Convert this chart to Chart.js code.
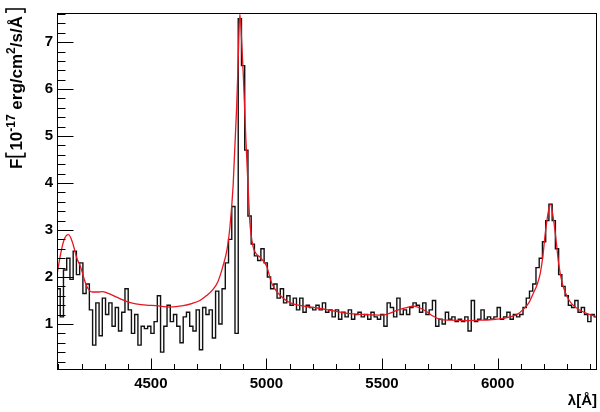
<!DOCTYPE html>
<html lang="en">
<head>
<meta charset="UTF-8">
<title>Spectrum fit</title>
<script src="https://cdn.jsdelivr.net/npm/chart.js"></script>
<style>
  html, body { margin: 0; padding: 0; background: #fff; }
</style>
</head>
<body>
<canvas id="spec" width="600" height="412"></canvas>
<script>
// observed spectrum, binned (black histogram)
const binStart = 4094;
const binWidth = 14;
const flux = [
  1.75, 1.15, 2.15, 2.4, 1.95, 2.55, 2.05, 2.3, 1.65, 1.85,
  1.3, 0.55, 1.45, 0.75, 1.55, 1.2, 1.45, 0.95, 1.35, 0.85,
  1.25, 1.75, 1.3, 0.8, 1.2, 0.55, 0.95, 0.9, 0.95, 0.8,
  1.05, 1.6, 0.4, 0.95, 1.4, 1.05, 1.2, 0.95, 0.6, 1.15,
  1.25, 0.95, 0.85, 1.3, 0.45, 1.35, 1.2, 1.3, 0.7, 1.7,
  1.0, 1.75, 2.3, 2.8, 3.5, 0.8, 7.5, 6.5, 4.7, 3.3,
  2.7, 2.45, 2.35, 2.6, 2.3, 2.0, 1.75, 1.85, 1.55, 1.75,
  1.45, 1.6, 1.4, 1.55, 1.3, 1.55, 1.25, 1.4, 1.35, 1.3,
  1.4, 1.3, 1.45, 1.25, 1.3, 1.15, 1.3, 1.1, 1.25, 1.15,
  1.3, 1.1, 1.2, 1.25, 1.15, 1.2, 1.1, 1.25, 1.15, 1.1,
  1.2, 0.95, 1.45, 1.35, 1.15, 1.55, 1.2, 1.3, 1.2, 1.35,
  1.45, 1.4, 1.25, 1.45, 1.2, 1.3, 1.5, 0.95, 1.1, 1.0,
  1.25, 1.1, 1.15, 1.05, 1.1, 1.05, 1.15, 0.85, 1.5, 1.05,
  1.1, 1.3, 1.1, 1.15, 1.1, 1.15, 1.35, 1.1, 1.15, 1.25,
  1.1, 1.2, 1.15, 1.2, 1.35, 1.55, 1.7, 1.85, 2.2, 2.4,
  2.75, 3.2, 3.55, 3.2, 2.6, 2.05, 1.8, 1.6, 1.4, 1.35,
  1.5, 1.25, 1.35, 1.2, 1.05, 1.2, 1.15
];

// fitted model (red curve)
const modelLambda = [
  4094, 4110, 4125, 4144, 4160, 4180, 4197, 4212, 4226, 4247,
  4270, 4291, 4310, 4340, 4370, 4400, 4435, 4480, 4522, 4582,
  4640, 4680, 4712, 4740, 4768, 4790, 4812, 4830, 4842, 4856,
  4871, 4878, 4885, 4893, 4900, 4911, 4921, 4928, 4942, 4955,
  4971, 4985, 5001, 5022, 5040, 5059, 5085, 5115, 5150, 5189,
  5218, 5290, 5362, 5430, 5505, 5535, 5564, 5600, 5636, 5665,
  5694, 5720, 5752, 5795, 5860, 5925, 5990, 6055, 6090, 6112,
  6135, 6156, 6172, 6185, 6196, 6206, 6218, 6228, 6238, 6250,
  6264, 6278, 6293, 6310, 6329, 6360, 6387, 6432
];
const modelFlux = [
  2.05, 2.5, 2.8, 2.9, 2.75, 2.4, 2.2, 1.95, 1.77, 1.68,
  1.68, 1.69, 1.66, 1.6, 1.53, 1.47, 1.43, 1.4, 1.39, 1.36,
  1.39, 1.44, 1.5, 1.6, 1.73, 1.9, 2.23, 2.6, 3.06, 3.95,
  5.6, 6.65, 7.6, 7.0, 6.3, 4.93, 3.89, 3.19, 2.65, 2.5,
  2.43, 2.35, 2.23, 1.88, 1.72, 1.61, 1.5, 1.43, 1.39, 1.36,
  1.34, 1.28, 1.22, 1.2, 1.19, 1.23, 1.29, 1.34, 1.38, 1.34,
  1.26, 1.17, 1.1, 1.08, 1.07, 1.08, 1.1, 1.15, 1.22, 1.32,
  1.45, 1.67, 1.85, 2.09, 2.45, 2.92, 3.35, 3.55, 3.35, 2.92,
  2.29, 1.9, 1.67, 1.5, 1.39, 1.28, 1.22, 1.15
];

// axes
const xRange = [4094, 6430];
const yRange = [0.02, 7.62];
const xMajor = [4500, 5000, 5500, 6000];
const yMajor = [1, 2, 3, 4, 5, 6, 7];
const xMinorStep = 100;
const yMinorStep = 0.2;

const FONT = '"Liberation Sans", Arial, sans-serif';

const histPoints = flux.map((v, i) => ({ x: binStart + i * binWidth, y: v }));
histPoints.push({ x: binStart + flux.length * binWidth, y: flux[flux.length - 1] });
const modelPoints = modelLambda.map((x, i) => ({ x: x, y: modelFlux[i] }));

// y title with superscripts and brackets, drawn rotated
function drawYTitle(ctx) {
  const size = 17;
  const base = 'bold ' + size + 'px ' + FONT;
  const sup = 'bold ' + Math.round(size * 0.68) + 'px ' + FONT;
  const parts = [
    { t: 'F', f: base, dy: 0 },
    { br: '[' },
    { t: '10', f: base, dy: 0 },
    { t: '-17', f: sup, dy: -size * 0.42 },
    { t: ' erg/cm', f: base, dy: 0 },
    { t: '2', f: sup, dy: -size * 0.42 },
    { t: '/s/Å', f: base, dy: 0 },
    { br: ']' }
  ];
  ctx.save();
  ctx.translate(22, 169);
  ctx.rotate(-Math.PI / 2);
  ctx.fillStyle = '#000';
  ctx.strokeStyle = '#000';
  ctx.lineWidth = 1.6;
  ctx.textBaseline = 'alphabetic';
  let u = 0;
  for (const p of parts) {
    if (p.br) {
      const top = -16, bot = 3;
      ctx.beginPath();
      if (p.br === '[') {
        ctx.moveTo(u + 6, top); ctx.lineTo(u + 2, top); ctx.lineTo(u + 2, bot); ctx.lineTo(u + 6, bot);
      } else {
        u += 3;
        ctx.moveTo(u, top); ctx.lineTo(u + 4, top); ctx.lineTo(u + 4, bot); ctx.lineTo(u, bot);
      }
      ctx.stroke();
      u += 8;
      continue;
    }
    ctx.font = p.f;
    ctx.fillText(p.t, u, p.dy);
    u += ctx.measureText(p.t).width;
  }
  ctx.restore();
}

const rootFrame = {
  id: 'rootFrame',
  afterDraw(chart) {
    const { ctx, chartArea: a, scales: { x, y } } = chart;
    ctx.save();
    ctx.strokeStyle = '#000';
    ctx.lineWidth = 1;
    const L = Math.round(a.left) + 0.5, R = Math.round(a.right) - 0.5;
    const T = Math.round(a.top) + 0.5, B = Math.round(a.bottom) - 0.5;
    ctx.strokeRect(L, T, R - L, B - T);
    ctx.beginPath();
    // x ticks, pointing up into the frame
    for (let v = Math.ceil(xRange[0] / xMinorStep) * xMinorStep; v <= xRange[1]; v += xMinorStep) {
      const px = Math.round(x.getPixelForValue(v)) + 0.5;
      const len = xMajor.includes(v) ? 11 : 5.5;
      ctx.moveTo(px, B); ctx.lineTo(px, B - len);
    }
    // y ticks, pointing right into the frame
    for (let k = 1; k * yMinorStep <= yRange[1]; k++) {
      const v = +(k * yMinorStep).toFixed(2);
      const py = Math.round(y.getPixelForValue(v)) + 0.5;
      const len = k % 5 === 0 ? 16 : 8;
      ctx.moveTo(L, py); ctx.lineTo(L + len, py);
    }
    ctx.stroke();
    ctx.restore();
    drawYTitle(ctx);
  }
};

const tickFont = { family: FONT, size: 15, weight: 'bold' };

new Chart(document.getElementById('spec').getContext('2d'), {
  type: 'line',
  data: {
    datasets: [
      {
        label: 'model',
        data: modelPoints,
        borderColor: 'rgb(232,22,32)',
        borderWidth: 1.3,
        pointRadius: 0,
        cubicInterpolationMode: 'monotone',
        order: 0
      },
      {
        label: 'spectrum',
        data: histPoints,
        borderColor: '#111',
        borderWidth: 1.4,
        pointRadius: 0,
        stepped: 'before',
        order: 1
      }
    ]
  },
  options: {
    responsive: false,
    animation: false,
    devicePixelRatio: 1,
    layout: { padding: { top: 4, right: 3, left: 0, bottom: 0 } },
    plugins: { legend: { display: false }, tooltip: { enabled: false } },
    scales: {
      x: {
        type: 'linear',
        min: xRange[0],
        max: xRange[1],
        afterBuildTicks: s => { s.ticks = xMajor.map(v => ({ value: v })); },
        afterFit: s => { s.height = 42; },
        grid: { display: false, drawTicks: false },
        border: { display: false },
        ticks: {
          font: tickFont, color: '#000', padding: 5,
          maxRotation: 0, autoSkip: false,
          callback: v => String(v)
        },
        title: {
          display: true, text: 'λ[Å]', align: 'end', color: '#000',
          font: tickFont, padding: { top: 0, bottom: 2 }
        }
      },
      y: {
        type: 'linear',
        min: yRange[0],
        max: yRange[1],
        afterBuildTicks: s => { s.ticks = yMajor.map(v => ({ value: v })); },
        afterFit: s => { s.width = 57; },
        grid: { display: false, drawTicks: false },
        border: { display: false },
        ticks: {
          font: tickFont, color: '#000', padding: 4,
          autoSkip: false,
          callback: v => String(v)
        }
      }
    }
  },
  plugins: [rootFrame]
});
</script>
</body>
</html>
